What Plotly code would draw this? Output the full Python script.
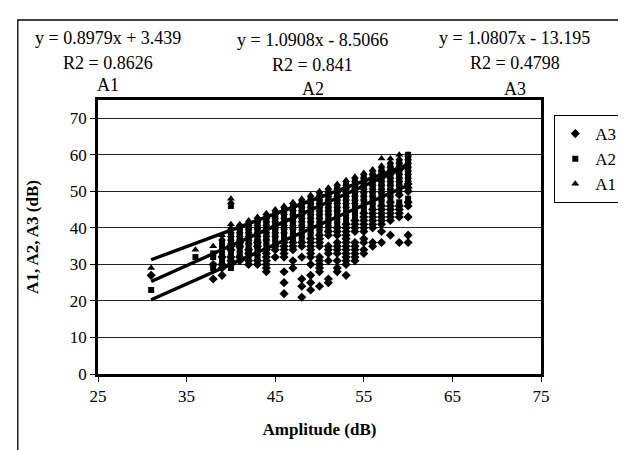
import plotly.graph_objects as go

# ---------------- data ----------------
x_ticks = [25, 35, 45, 55, 65, 75]
y_ticks = [0, 10, 20, 30, 40, 50, 60, 70]

a1_x = [31, 36, 38, 39, 40, 41, 42, 43, 44, 45, 46, 47, 48, 49, 50,
        51, 52, 53, 54, 55, 56, 57, 58, 59, 60]
a1_y = [
    [29], [34], [35], [38, 37],
    [48, 47, 41, 40, 39, 38, 37, 36],
    [41, 40, 39, 38, 37, 36, 35],
    [42, 41, 40, 39, 38, 37, 36],
    [43, 42, 41, 40, 39, 38, 37, 36],
    [44, 43, 42, 41, 40, 39, 38, 37],
    [45, 44, 43, 42, 41, 40, 39, 38],
    [46, 45, 44, 43, 42, 41, 40, 39],
    [47, 46, 45, 44, 43, 42, 41, 40],
    [48, 47, 46, 45, 44, 43, 42, 41],
    [49, 48, 47, 46, 45, 44, 43, 42],
    [50, 49, 48, 47, 46, 45, 44, 43],
    [51, 50, 49, 48, 47, 46, 45, 44],
    [52, 51, 50, 49, 48, 47, 46, 45],
    [53, 52, 51, 50, 49, 48, 47, 46],
    [54, 53, 52, 51, 50, 49, 48, 47],
    [55, 54, 53, 52, 51, 50, 49, 48],
    [56, 55, 54, 53, 52, 51, 50, 49],
    [59, 57, 56, 55, 54, 53, 52, 51, 50],
    [59, 58, 57, 56, 55, 54, 53, 52, 51],
    [60, 59, 58, 57, 56, 55, 54, 53, 52],
    [60, 59, 58, 57, 56, 55, 54, 53],
]

a2_x = [31, 36, 38, 39, 40, 41, 42, 43, 44, 45, 46, 47, 48, 49, 50,
        51, 52, 53, 54, 55, 56, 57, 58, 59, 60]
a2_y = [
    [23], [32], [33, 32, 29], [36, 35, 34, 33, 31],
    [46, 38, 37, 36, 35, 34, 33, 32, 31, 30, 29],
    [40, 39, 38, 37, 36, 35, 34, 33, 32],
    [41, 40, 39, 38, 37, 36, 35, 34, 33, 32],
    [42, 41, 40, 39, 38, 37, 36, 35, 34, 33, 32],
    [43, 42, 41, 40, 39, 38, 37, 36, 35],
    [44, 43, 42, 41, 40, 39, 38, 37, 36],
    [45, 44, 43, 42, 41, 40, 39, 38, 37],
    [46, 45, 44, 43, 42, 41, 40, 39, 38, 37],
    [47, 46, 45, 44, 43, 42, 41, 40, 39, 38, 37],
    [48, 47, 46, 45, 44, 43, 42, 41, 40, 39, 38],
    [49, 48, 47, 46, 45, 44, 43, 42, 41, 40, 39],
    [50, 49, 48, 47, 46, 45, 44, 43, 42, 41, 40],
    [51, 50, 49, 48, 47, 46, 45, 44, 43, 42, 41],
    [52, 51, 50, 49, 48, 47, 46, 45, 44, 43, 42],
    [53, 52, 51, 50, 49, 48, 47, 46, 45, 44, 43],
    [54, 53, 52, 51, 50, 49, 48, 47, 46, 45],
    [55, 54, 53, 52, 51, 50, 49, 48, 47, 46],
    [56, 55, 54, 53, 52, 51, 50, 49, 48, 47],
    [57, 56, 55, 54, 53, 52, 51, 50, 49, 48],
    [58, 57, 56, 55, 54, 53, 52, 51, 50, 47, 46],
    [60, 59, 58, 57, 56, 55, 54, 53, 48],
]

a3_x = [31, 38, 39, 40, 41, 42, 43, 44, 45, 46, 47, 48, 49, 50,
        51, 52, 53, 54, 55, 56, 57, 58, 59, 60]
a3_y = [
    [27], [30, 26], [32, 30, 29, 27],
    [35, 34, 32, 31, 30],
    [36, 35, 32, 31],
    [34, 33, 31, 30],
    [36, 35, 31, 30],
    [34, 33, 32, 31, 30, 29, 28],
    [35, 34, 32],
    [36, 35, 34, 33, 32, 28, 25, 22],
    [36, 35, 34, 31, 29],
    [36, 35, 32, 26, 24, 21],
    [37, 36, 35, 34, 33, 32, 30, 27, 25, 23],
    [38, 37, 36, 35, 32, 31, 30, 29, 28, 24],
    [39, 38, 35, 34, 33, 31, 26, 25],
    [40, 39, 38, 36, 35, 34, 33, 31, 29, 28],
    [41, 40, 39, 38, 37, 36, 35, 34, 33, 32, 31, 30, 27],
    [42, 41, 40, 39, 36, 35, 34, 33, 32, 31],
    [44, 43, 42, 41, 40, 39, 37, 36, 34, 33],
    [45, 44, 43, 42, 41, 40, 36, 35],
    [46, 45, 44, 43, 42, 41, 39, 36],
    [47, 46, 45, 44, 43, 42, 38],
    [49, 46, 45, 44, 43, 36],
    [52, 51, 50, 47, 46, 43, 38, 36],
]

series_names = ["A1", "A2", "A3"]
trend_slope = [0.8979, 1.0908, 1.0807]
trend_intercept = [3.439, -8.5066, -13.195]
trend_r2 = ["0.8626", "0.841", "0.4798"]
trend_eq = ["y = 0.8979x + 3.439", "y = 1.0908x - 8.5066", "y = 1.0807x - 13.195"]
trend_x = [31, 60]

# ---------------- figure ----------------
FONT = "Liberation Serif"


def flatten(xs, ys):
    fx, fy = [], []
    for x, col in zip(xs, ys):
        for v in col:
            fx.append(x)
            fy.append(v)
    return fx, fy


fig = go.Figure()

symbols = {"A1": ("triangle-up", 7), "A2": ("square", 6), "A3": ("diamond", 7)}
data = {"A1": (a1_x, a1_y), "A2": (a2_x, a2_y), "A3": (a3_x, a3_y)}

for name in series_names:
    fx, fy = flatten(*data[name])
    sym, sz = symbols[name]
    fig.add_trace(go.Scatter(
        x=fx, y=fy, mode="markers", name=name,
        marker=dict(symbol=sym, size=sz, color="black", line=dict(width=0)),
    ))

for i, name in enumerate(series_names):
    ty = [trend_slope[i] * x + trend_intercept[i] for x in trend_x]
    fig.add_trace(go.Scatter(
        x=trend_x, y=ty, mode="lines", showlegend=False,
        line=dict(color="black", width=3.4),
    ))

# trendline labels (paper coordinates)
label_x = [0.022, 0.485, 0.941]
for i, name in enumerate(series_names):
    dy = 0.007 if i == 1 else 0
    fig.add_annotation(text=trend_eq[i], xref="paper", yref="paper",
                       x=label_x[i], y=1.225 - dy,
                       showarrow=False, xanchor="center", yanchor="middle",
                       font=dict(family=FONT, size=18, color="black"))
    fig.add_annotation(text="R2 = " + trend_r2[i], xref="paper", yref="paper",
                       x=label_x[i], y=1.135 - dy,
                       showarrow=False, xanchor="center", yanchor="middle",
                       font=dict(family=FONT, size=18, color="black"))
    fig.add_annotation(text=name, xref="paper", yref="paper",
                       x=label_x[i], y=1.053 - (0.012 if i > 0 else 0),
                       showarrow=False, xanchor="center", yanchor="middle",
                       font=dict(family=FONT, size=18, color="black"))

# outer chart frame (clipped at right and bottom in the original)
fig.add_shape(type="rect", xref="paper", yref="paper",
              x0=-0.181, y0=-0.40, x1=1.25, y1=1.292,
              line=dict(color="black", width=1.3), layer="below")

fig.update_layout(
    width=626, height=450,
    margin=dict(l=90, r=78, t=92, b=84),
    paper_bgcolor="white", plot_bgcolor="white",
    font=dict(family=FONT, size=17, color="black"),
    showlegend=True,
    legend=dict(x=1.03, y=0.945, xanchor="left", yanchor="top",
                bordercolor="black", borderwidth=1, bgcolor="white",
                traceorder="reversed", itemwidth=30,
                font=dict(family=FONT, size=17, color="black"),
                tracegroupgap=0),
    xaxis=dict(range=[25, 75], tickvals=x_ticks, ticks="outside", ticklen=5,
               tickcolor="black", showline=True, linecolor="black", linewidth=2.5,
               mirror=True, showgrid=False, zeroline=False,
               tickfont=dict(family=FONT, size=17),
               title=dict(text="<b>Amplitude (dB)</b>", standoff=18,
                          font=dict(family=FONT, size=17))),
    yaxis=dict(range=[0, 75], tickvals=y_ticks, ticks="outside", ticklen=5,
               tickcolor="black", showline=True, linecolor="black", linewidth=2.5,
               mirror=True, showgrid=True, gridcolor="#222222", gridwidth=1,
               zeroline=False,
               tickfont=dict(family=FONT, size=17),
               title=dict(text="<b>A1, A2, A3 (dB)</b>", standoff=27,
                          font=dict(family=FONT, size=17))),
)

fig.write_html("out.html")
